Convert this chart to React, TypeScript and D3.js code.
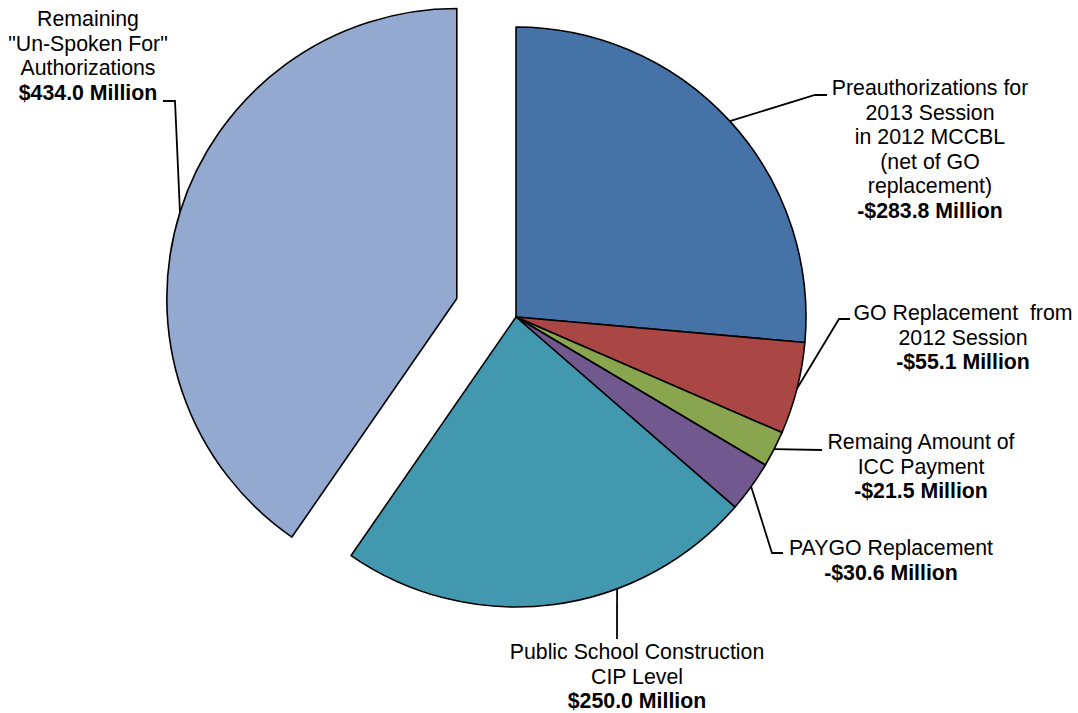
import React from "react";
import * as d3 from "d3";

const categories = [
  "Preauthorizations for 2013 Session in 2012 MCCBL (net of GO replacement)",
  "GO Replacement from 2012 Session",
  "Remaing Amount of ICC Payment",
  "PAYGO Replacement",
  "Public School Construction CIP Level",
  "Remaining \"Un-Spoken For\" Authorizations",
];
const values = [283.8, 55.1, 21.5, 30.6, 250.0, 434.0];
const valueLabels = [
  "-$283.8 Million",
  "-$55.1 Million",
  "-$21.5 Million",
  "-$30.6 Million",
  "$250.0 Million",
  "$434.0 Million",
];
const labelLines = [
  ["Preauthorizations for", "2013 Session", "in 2012 MCCBL", "(net of GO", "replacement)"],
  ["GO Replacement  from", "2012 Session"],
  ["Remaing Amount of", "ICC Payment"],
  ["PAYGO Replacement"],
  ["Public School Construction", "CIP Level"],
  ["Remaining", "\"Un-Spoken For\"", "Authorizations"],
];
const colors = ["#4572A7", "#AA4643", "#89A54E", "#71588F", "#4198AF", "#93A9CF"];
const exploded = [0, 0, 0, 0, 0, 62];

// label layout: center x, first baseline y, leader path after the edge point, optional anchor angle (deg)
const labelLayout = [
  { x: 930, y: 95, path: [[815, 95], [827, 95]], angle: null },
  { x: 963, y: 320, path: [[839, 319], [850, 319]], angle: null },
  { x: 921, y: 449, path: [[822, 450]], angle: null },
  { x: 891, y: 555, path: [[772, 553], [783, 553]], angle: null },
  { x: 637, y: 659, path: [[617, 639]], angle: 159.6 },
  { x: 88, y: 26, path: [[175, 101], [163, 101]], angle: null },
];

const W = 1078;
const H = 713;
const CX = 516;
const CY = 317;
const R = 290;
const LINE = 24.5;
const FONT = "'Liberation Sans', Arial, sans-serif";
const FS = 21.3;

export default function App() {
  const pie = d3.pie<number>().sort(null).value((d) => d)(values);
  const arc = d3.arc<d3.PieArcDatum<number>>().innerRadius(0).outerRadius(R);

  return (
    <svg
      width={W}
      height={H}
      style={{ position: "absolute", left: 0, top: 0, background: "#fff" }}
    >
      <g transform={`translate(${CX},${CY})`}>
        {pie.map((p, i) => {
          const mid = (p.startAngle + p.endAngle) / 2;
          const ox = Math.sin(mid) * exploded[i];
          const oy = -Math.cos(mid) * exploded[i];
          return (
            <path
              key={i}
              d={arc(p) || ""}
              transform={`translate(${ox},${oy})`}
              fill={colors[i]}
              stroke="#000"
              strokeWidth={1.6}
              strokeLinejoin="round"
            />
          );
        })}
      </g>
      {pie.map((p, i) => {
        const lay = labelLayout[i];
        const mid = (p.startAngle + p.endAngle) / 2;
        const a = lay.angle != null ? (lay.angle * Math.PI) / 180 : mid;
        const ox = Math.sin(mid) * exploded[i];
        const oy = -Math.cos(mid) * exploded[i];
        const sx = CX + ox + Math.sin(a) * R;
        const sy = CY + oy - Math.cos(a) * R;
        const pts = [[sx, sy], ...lay.path];
        const lines = labelLines[i];
        return (
          <g key={"l" + i}>
            <polyline
              points={pts.map((q) => q.join(",")).join(" ")}
              fill="none"
              stroke="#000"
              strokeWidth={1.8}
            />
            <text
              fontFamily={FONT}
              fontSize={FS}
              textAnchor="middle"
              fill="#000"
              style={{ whiteSpace: "pre" }}
            >
              {lines.map((t, j) => (
                <tspan key={j} x={lay.x} y={lay.y + j * LINE}>
                  {t}
                </tspan>
              ))}
              <tspan x={lay.x} y={lay.y + lines.length * LINE} fontWeight="bold">
                {valueLabels[i]}
              </tspan>
            </text>
          </g>
        );
      })}
    </svg>
  );
}
